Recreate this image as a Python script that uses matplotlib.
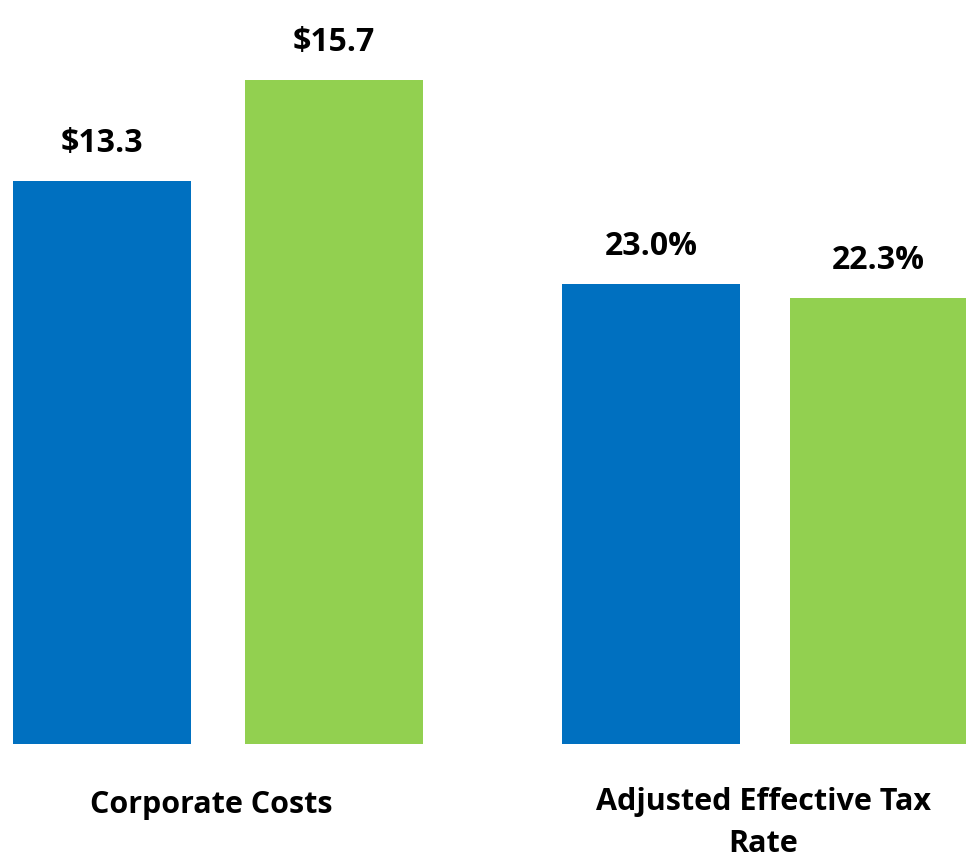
import matplotlib.pyplot as plt

plt.rcParams['font.family'] = ['Open Sans', 'DejaVu Sans']

# data
periods = ['prior', 'current']
corp_costs = [13.3, 15.7]
tax_rate = [23.0, 22.3]
corp_labels = ['$13.3', '$15.7']
tax_labels = ['23.0%', '22.3%']
colors = ['#0070C0', '#92D050']

W, H = 966, 859
fig = plt.figure(figsize=(W / 100, H / 100), dpi=100)

base = (H - 744) / H
ax1 = fig.add_axes([0, base, 0.5, 1 - base])
ax2 = fig.add_axes([0.5, base, 0.5, 1 - base])

# each group has its own scale (pixels per unit)
ax1.set_ylim(0, 744 / 42.3)
ax2.set_ylim(0, 744 / 20.0)
ax1.set_xlim(-102 / 231.5, (483 - 102) / 231.5)
ax2.set_xlim(-168 / 227.5, (483 - 168) / 227.5)

xs = range(len(periods))
b1 = ax1.bar(xs, corp_costs, width=178 / 231.5, color=colors)
b2 = ax2.bar(xs, tax_rate, width=178 / 227.5, color=colors)

for ax, bars, labels in [(ax1, b1, corp_labels), (ax2, b2, tax_labels)]:
    for rect, lab in zip(bars, labels):
        ax.annotate(lab, (rect.get_x() + rect.get_width() / 2, rect.get_height()),
                    xytext=(0, 27), textcoords='offset points',
                    ha='center', va='center', fontsize=23, fontweight='bold')
    ax.axis('off')

fig.text(211 / W, 1 - 805 / H, 'Corporate Costs', ha='center', va='center',
         fontsize=22, fontweight='bold')
fig.text(763 / W, 1 - 823 / H, 'Adjusted Effective Tax\nRate', ha='center',
         va='center', fontsize=22, fontweight='bold', linespacing=1.5)

fig.savefig('out.png', dpi=100)
